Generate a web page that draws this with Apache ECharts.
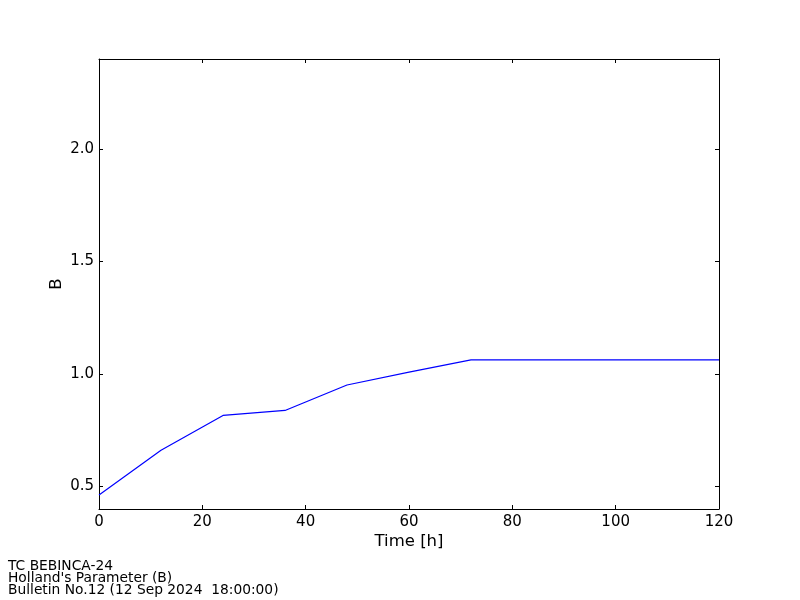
<!DOCTYPE html>
<html><head><meta charset="utf-8">
<script src="https://cdn.jsdelivr.net/npm/echarts@6/dist/echarts.min.js"></script>
<style>html,body{margin:0;padding:0;background:#fff}#c{width:800px;height:600px}</style>
</head><body><div id="c"></div>
<script>
const hours = [0, 12, 24, 36, 48, 60, 72, 84, 96, 108, 120];
const bValues = [0.462, 0.661, 0.816, 0.838, 0.951, 1.008, 1.063, 1.063, 1.063, 1.063, 1.063];
const yTicks = [0.5, 1.0, 1.5, 2.0];
const xTicks = [0, 20, 40, 60, 80, 100, 120];
const footer = ["TC BEBINCA-24", "Holland's Parameter (B)", "Bulletin No.12 (12 Sep 2024  18:00:00)"];

const font = 'DejaVu Sans';
const chart = echarts.init(document.getElementById('c'), null, {renderer: 'canvas'});
const lineStyle = {color: '#000', width: 1};
const tick = {show: true, inside: true, length: 4, lineStyle: {color: '#000', width: 1}};
chart.setOption({
  animation: false,
  backgroundColor: '#fff',
  textStyle: {fontFamily: font},
  grid: {left: 99, right: 81, top: 59, bottom: 91, containLabel: false},
  xAxis: [
    {type: 'value', min: 0, max: 120, interval: 20, position: 'bottom',
     name: 'Time [h]', nameLocation: 'middle', nameGap: 24, nameMoveOverlap: false,
     nameTextStyle: {fontFamily: font, fontSize: 16.5, color: '#000'},
     axisLine: {show: true, onZero: false, lineStyle}, axisTick: tick,
     axisLabel: {fontFamily: font, fontSize: 15, color: '#000', margin: 6},
     splitLine: {show: false}},
    {type: 'value', min: 0, max: 120, interval: 20, position: 'top',
     axisLine: {show: true, onZero: false, lineStyle}, axisTick: tick,
     axisLabel: {show: false}, splitLine: {show: false}}
  ],
  yAxis: [
    {type: 'value', min: 0.4, max: 2.4, position: 'left',
     name: 'B', nameLocation: 'middle', nameGap: 34, nameRotate: 90, nameMoveOverlap: false,
     nameTextStyle: {fontFamily: font, fontSize: 16.5, color: '#000'},
     axisLine: {show: true, onZero: false, lineStyle},
     axisTick: Object.assign({}, tick, {customValues: yTicks}),
     axisLabel: {fontFamily: font, fontSize: 15, color: '#000', margin: 5,
                 customValues: yTicks, formatter: v => v.toFixed(1)},
     splitLine: {show: false}},
    {type: 'value', min: 0.4, max: 2.4, position: 'right',
     axisLine: {show: true, onZero: false, lineStyle},
     axisTick: Object.assign({}, tick, {customValues: yTicks}),
     axisLabel: {show: false, customValues: yTicks}, splitLine: {show: false}}
  ],
  graphic: [{
    type: 'text', left: 8, top: 559,
    style: {text: footer.join('\n'), font: '13.8px "DejaVu Sans"', fill: '#000', lineHeight: 12}
  }],
  series: [{
    type: 'line', xAxisIndex: 0, yAxisIndex: 0,
    data: hours.map((h, i) => [h, bValues[i]]),
    showSymbol: false, symbol: 'none',
    lineStyle: {color: '#0000ff', width: 1.2}
  }]
});
</script></body></html>
